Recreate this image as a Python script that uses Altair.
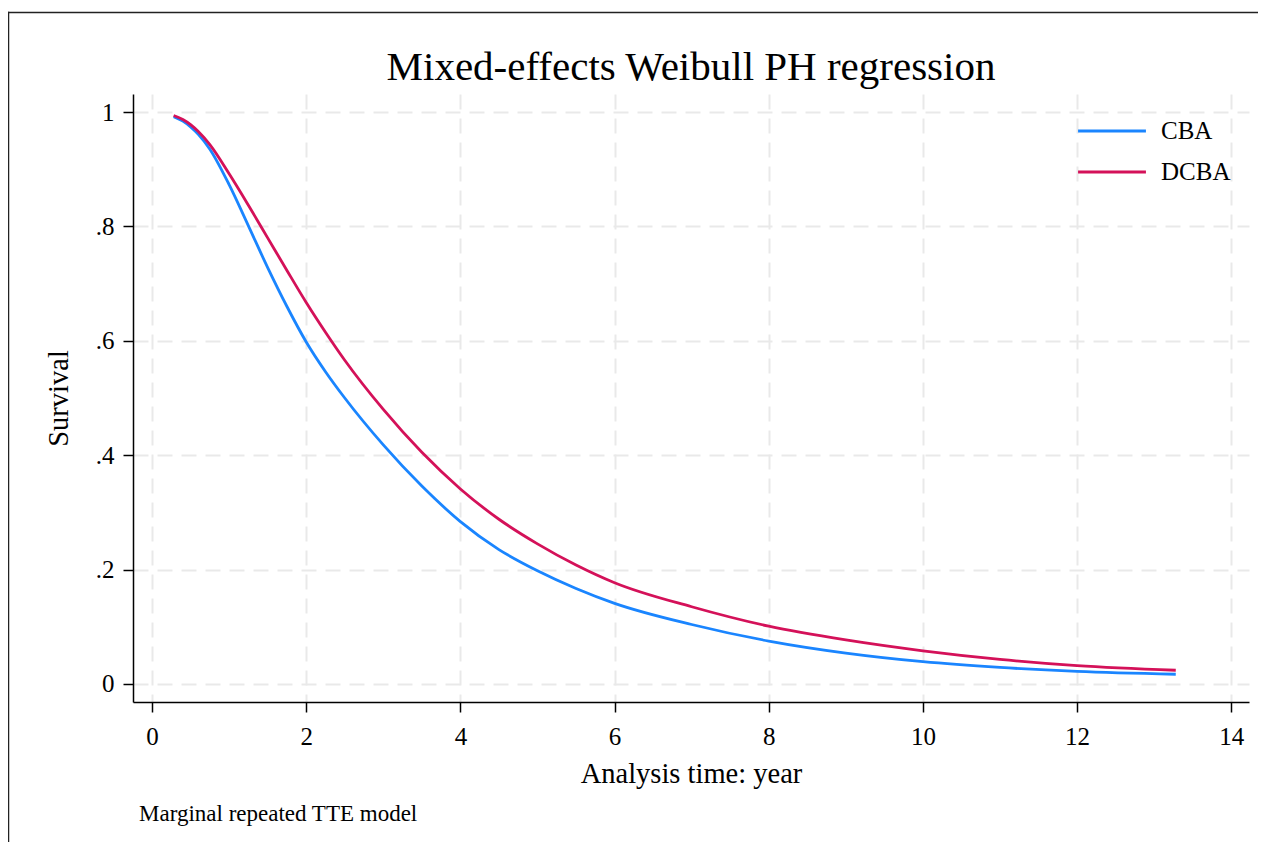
import altair as alt
import pandas as pd

# ---- data ----
series_names = ["CBA", "DCBA"]
series_colors = ["#1a85ff", "#d41159"]

t_vals = [0.28, 0.4, 0.5, 0.6, 0.75, 1.0, 1.25, 1.5, 1.75, 2.0, 2.25, 2.5, 3.0,
          3.5, 4.0, 4.5, 5.0, 5.5, 6.0, 7.0, 8.0, 9.0, 10.0, 11.0, 12.0, 13.28]
s_cba = [0.992, 0.984, 0.974, 0.961, 0.935, 0.873, 0.801, 0.728, 0.660, 0.598,
         0.546, 0.500, 0.418, 0.346, 0.284, 0.235, 0.198, 0.167, 0.141, 0.104,
         0.075, 0.054, 0.039, 0.029, 0.022, 0.017]
s_dcba = [0.994, 0.987, 0.978, 0.966, 0.943, 0.892, 0.837, 0.780, 0.723, 0.667,
          0.615, 0.566, 0.480, 0.405, 0.341, 0.288, 0.245, 0.208, 0.177, 0.135,
          0.101, 0.077, 0.058, 0.043, 0.032, 0.024]

x_ticks = [0, 2, 4, 6, 8, 10, 12, 14]
y_ticks = [0, 0.2, 0.4, 0.6, 0.8, 1]

title_text = "Mixed-effects Weibull PH regression"
x_title = "Analysis time: year"
y_title = "Survival"
note_text = "Marginal repeated TTE model"

rows = []
for name, vals in zip(series_names, [s_cba, s_dcba]):
    for t, s in zip(t_vals, vals):
        rows.append({"t": t, "s": s, "group": name})
df = pd.DataFrame(rows)

FONT = "Liberation Serif"
W, H = 1116, 608

lines = alt.Chart(df).mark_line(strokeWidth=2.8, interpolate="monotone").encode(
    x=alt.X("t:Q", scale=alt.Scale(domain=[-0.247, 14.23], nice=False, zero=False),
            axis=alt.Axis(values=x_ticks, title=x_title, format="d")),
    y=alt.Y("s:Q", scale=alt.Scale(domain=[-0.0315, 1.0315], nice=False, zero=False),
            axis=alt.Axis(values=y_ticks, title=y_title,
                          labelExpr="datum.value == 0 ? '0' : (datum.value == 1 ? '1' : '.' + round(datum.value * 10))")),
    color=alt.Color("group:N", scale=alt.Scale(domain=series_names, range=series_colors),
                    legend=alt.Legend(title=None, orient="none", legendX=951, legendY=9,
                                      symbolType="M-1.3,0H1.3", symbolSize=2725,
                                      symbolStrokeWidth=2.8, labelFont=FONT,
                                      labelFontSize=25, labelColor="black",
                                      labelOffset=21, padding=0, rowPadding=0)),
)

one = alt.Data(values=[{"k": 1}])
frame_top = alt.Chart(one).mark_rect(color="#222222", strokeWidth=0).encode(
    x=alt.value(-125.25), x2=alt.value(W + 9), y=alt.value(-82.25), y2=alt.value(-80.75)
)
frame_left = alt.Chart(one).mark_rect(color="#222222", strokeWidth=0).encode(
    x=alt.value(-125.25), x2=alt.value(-123.75), y=alt.value(-82.25), y2=alt.value(H + 140)
)

title = alt.Chart(alt.Data(values=[{"label": title_text}])).mark_text(
    font=FONT, fontSize=41, align="center", baseline="alphabetic", color="black"
).encode(
    x=alt.value(W / 2), y=alt.value(-14), text="label:N"
)

note = alt.Chart(alt.Data(values=[{"label": note_text}])).mark_text(
    font=FONT, fontSize=23, align="left", baseline="alphabetic", color="black"
).encode(
    x=alt.value(6), y=alt.value(727), text="label:N"
)

chart = alt.layer(frame_top, frame_left, lines, title, note).properties(
    width=W, height=H,
    autosize=alt.AutoSizeParams(type="none"),
    padding={"left": 125, "top": 86, "right": 9, "bottom": 140},
).configure_view(stroke=None).configure_axis(
    labelFont=FONT, titleFont=FONT, labelFontSize=25, titleFontSize=28.5,
    titleFontWeight="normal", labelColor="black", titleColor="black",
    domainColor="black", domainWidth=1.5, tickColor="black", tickWidth=1.5,
    tickSize=10, grid=True, gridColor="#e9e9e9", gridWidth=2, gridDash=[15, 9],
).configure_axisX(labelPadding=12, titlePadding=10).configure_axisY(
    labelPadding=9, titlePadding=22
)

chart.save("out.html", embed_options={"renderer": "svg", "actions": False})
